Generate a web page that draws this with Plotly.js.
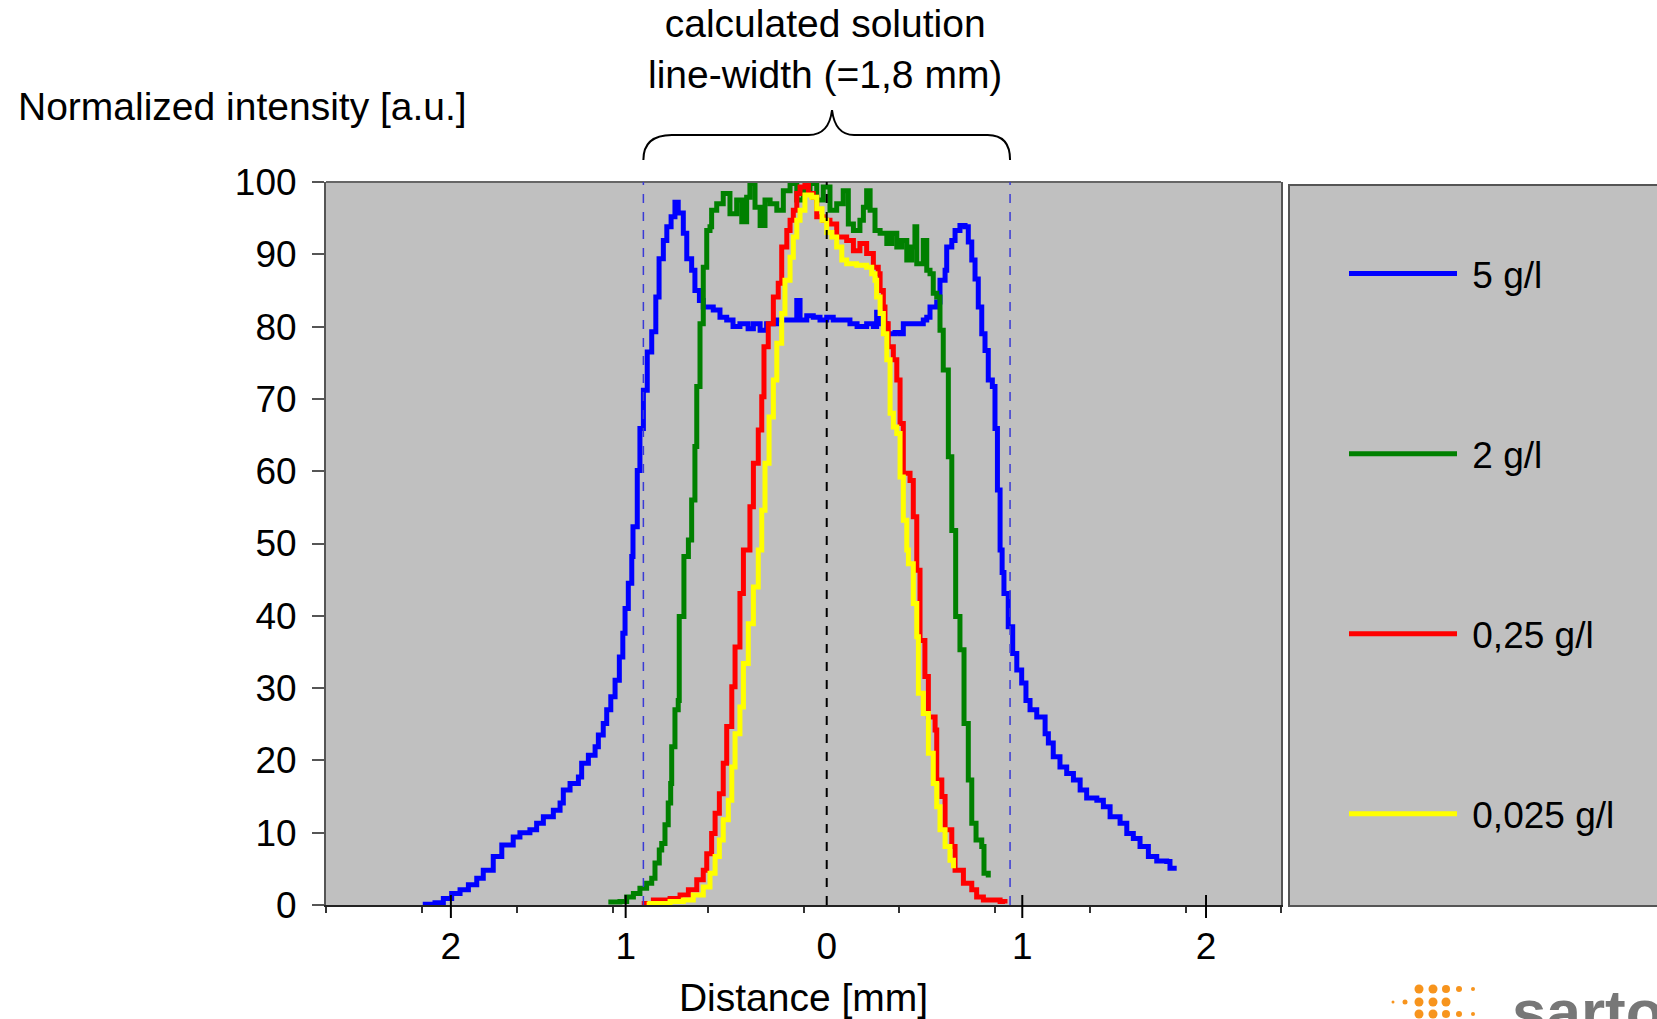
<!DOCTYPE html>
<html>
<head>
<meta charset="utf-8">
<script src="https://cdn.plot.ly/plotly-3.0.1.min.js"></script>
<style>
  html, body { margin: 0; padding: 0; background: #ffffff; }
  #chart { width: 1657px; height: 1019px; }
</style>
</head>
<body>
<div id="chart"></div>
<script>
// ---------------- data ----------------
const seriesNames  = ['5 g/l', '2 g/l', '0,25 g/l', '0,025 g/l'];
const seriesColors = ['#0000FF', '#008000', '#FF0000', '#FFFF00'];

// 5 g/l (blue)
const blueX = [-1.983,-1.923,-1.882,-1.841,-1.800,-1.759,-1.718,-1.686,-1.637,-1.595,
  -1.539,-1.506,-1.457,-1.424,-1.391,-1.342,-1.309,-1.293,-1.260,-1.219,
  -1.203,-1.170,-1.137,-1.121,-1.097,-1.080,-1.060,-1.039,-1.018,-1.001,
  -0.990,-0.974,-0.957,-0.951,-0.930,-0.917,-0.900,-0.881,-0.859,-0.839,
  -0.823,-0.802,-0.785,-0.764,-0.745,-0.729,-0.704,-0.687,-0.663,-0.647,
  -0.625,-0.606,-0.557,-0.524,-0.491,-0.460,-0.426,-0.386,-0.360,-0.327,
  -0.295,-0.245,-0.196,-0.147,-0.131,-0.098,-0.066,-0.033,0,0.032,
  0.081,0.114,0.149,0.196,0.229,0.245,0.262,0.295,0.335,0.360,
  0.376,0.425,0.474,0.491,0.507,0.540,0.556,0.581,0.589,0.614,
  0.630,0.654,0.679,0.695,0.712,0.728,0.744,0.761,0.777,0.793,
  0.813,0.826,0.838,0.851,0.861,0.870,0.891,0.913,0.933,0.957,
  0.978,0.998,1.031,1.072,1.088,1.112,1.145,1.178,1.211,1.244,
  1.276,1.326,1.358,1.391,1.440,1.473,1.505,1.538,1.579,1.620,
  1.669,1.685,1.718];
const blueY = [0.1,0.3,0.9,1.6,2.1,2.8,3.7,4.8,6.7,8.3,
  9.4,10.0,10.4,11.3,12.2,13.1,14.1,15.9,16.8,17.7,
  19.6,20.7,21.9,23.5,25.1,27.0,28.8,31.1,34.3,37.6,
  41.0,44.5,48.2,52.3,60.1,65.9,71.2,76.5,79.3,84.1,
  89.4,91.9,93.8,95.2,97.2,95.7,92.9,89.4,87.8,85.0,
  83.6,82.7,82.3,81.3,80.9,80.0,80.4,79.7,80.4,79.5,
  80.4,80.9,80.9,83.6,80.9,81.5,81.3,80.9,81.3,80.9,
  80.9,80.4,80.0,80.4,80.0,82.0,80.4,79.0,79.2,79.0,
  80.4,80.4,80.9,81.3,82.7,83.4,86.4,87.8,91.0,91.9,
  93.3,94.0,93.8,91.7,89.2,86.6,82.7,79.0,76.7,72.6,
  71.7,65.9,57.4,49.1,46.0,43.1,38.5,34.8,32.5,30.7,
  28.3,27.0,26.0,23.7,22.4,20.5,19.1,18.2,17.3,15.9,
  14.8,14.5,13.6,12.2,11.3,9.9,9.2,8.1,6.7,6.1,
  6.0,5.1,5.1];

// 2 g/l (green)
const greenX = [-1.072,-1.015,-0.982,-0.949,-0.917,-0.884,-0.859,-0.843,-0.822,-0.810,
  -0.794,-0.778,-0.766,-0.761,-0.745,-0.729,-0.724,-0.701,-0.679,-0.663,
  -0.647,-0.638,-0.622,-0.606,-0.589,-0.573,-0.565,-0.540,-0.508,-0.475,
  -0.442,-0.417,-0.393,-0.377,-0.352,-0.327,-0.303,-0.278,-0.245,-0.213,
  -0.180,-0.147,-0.115,-0.082,-0.049,-0.017,0.016,0.049,0.081,0.106,
  0.131,0.163,0.180,0.196,0.213,0.237,0.262,0.295,0.319,0.344,
  0.368,0.393,0.417,0.433,0.442,0.474,0.491,0.507,0.523,0.540,
  0.556,0.572,0.597,0.614,0.633,0.654,0.674,0.695,0.712,0.733,
  0.761,0.772,0.793];
const greenY = [0.4,0.5,1.1,1.6,2.3,3.0,3.7,5.8,7.6,8.5,
  11.1,14.1,16.8,21.9,27.0,28.3,39.9,48.2,50.5,56.0,
  63.4,71.7,80.4,88.2,93.3,93.8,96.1,97.0,98.4,95.6,
  97.5,94.5,97.9,99.8,96.5,94.0,97.5,97.0,96.1,98.8,
  99.8,97.5,98.8,99.8,97.5,99.3,96.1,97.0,98.8,94.2,
  93.3,94.7,96.5,98.8,96.1,93.3,92.9,91.5,92.9,91.0,
  91.9,89.2,91.0,93.8,88.7,91.9,87.8,87.3,84.6,84.1,
  79.5,74.0,62.0,51.8,39.9,35.3,25.1,17.3,11.3,9.0,
  8.1,4.4,3.8];

// 0,25 g/l (red)
const redX = [-0.908,-0.851,-0.769,-0.720,-0.679,-0.638,-0.606,-0.589,-0.565,-0.548,
  -0.527,-0.508,-0.491,-0.466,-0.450,-0.426,-0.409,-0.377,-0.360,-0.336,
  -0.319,-0.308,-0.287,-0.262,-0.238,-0.221,-0.196,-0.180,-0.164,-0.147,
  -0.131,-0.107,-0.090,-0.066,-0.049,-0.017,0.016,0.049,0.098,0.131,
  0.163,0.196,0.229,0.253,0.262,0.278,0.286,0.302,0.327,0.344,
  0.360,0.376,0.409,0.425,0.442,0.458,0.482,0.499,0.532,0.540,
  0.565,0.581,0.614,0.630,0.671,0.712,0.736,0.769,0.851,0.875];
const redY = [0.2,0.7,0.9,1.4,2.1,3.5,4.8,7.1,9.9,12.7,
  15.4,19.6,24.7,30.2,35.7,43.1,49.1,55.1,61.1,65.7,
  70.3,77.2,80.4,84.1,86.0,91.0,93.3,94.7,96.1,98.4,
  99.3,99.5,98.4,97.9,95.2,94.7,94.2,92.4,91.9,90.5,
  91.5,90.1,88.2,87.3,85.0,82.7,80.4,77.2,75.4,72.6,
  66.6,59.7,58.7,53.7,46.3,36.6,31.6,26.0,24.2,17.3,
  15.0,10.4,8.1,4.8,3.0,2.1,1.1,0.7,0.5,0.2];

// 0,025 g/l (yellow)
const yellowX = [-0.884,-0.867,-0.769,-0.704,-0.655,-0.606,-0.573,-0.548,-0.527,-0.508,
  -0.483,-0.466,-0.450,-0.426,-0.409,-0.385,-0.360,-0.336,-0.319,-0.303,
  -0.283,-0.262,-0.245,-0.221,-0.205,-0.180,-0.164,-0.147,-0.131,-0.107,
  -0.074,-0.049,-0.023,0,0.025,0.049,0.074,0.098,0.147,0.196,
  0.221,0.237,0.245,0.262,0.278,0.295,0.311,0.327,0.344,0.360,
  0.376,0.393,0.401,0.425,0.442,0.450,0.474,0.499,0.523,0.540,
  0.556,0.581,0.605,0.622];
const yellowY = [0.1,0.2,0.5,0.7,1.4,2.5,4.4,6.7,9.0,11.8,
  14.5,19.1,23.7,27.4,33.4,38.9,44.0,49.1,54.6,61.1,
  67.5,72.6,77.7,81.8,86.4,89.6,92.4,94.7,96.1,98.2,
  97.9,96.3,94.7,93.0,92.4,91.0,89.2,88.7,88.5,88.2,
  87.3,86.4,84.1,81.8,79.0,75.4,68.0,66.1,65.2,59.2,
  53.2,49.1,47.2,41.7,37.1,29.3,26.5,21.0,16.8,13.6,
  10.4,8.1,6.2,5.1];

// axes
const xTickVals = [-1.845, -0.987, 0, 0.960, 1.862];
const xTickText = ['2', '1', '0', '1', '2'];
const yTickVals = [0, 10, 20, 30, 40, 50, 60, 70, 80, 90, 100];
const xRange = [-2.458, 2.230];
const yRange = [0, 100];
const lineWidthMm = 1.8;   // calculated solution line-width

// ---------------- chart ----------------
const seriesX = [blueX, greenX, redX, yellowX];
const seriesY = [blueY, greenY, redY, yellowY];

const traces = seriesNames.map((name, i) => ({
  type: 'scatter',
  mode: 'lines',
  name: '\u00A0' + name,
  legendgroup: name,
  x: seriesX[i],
  y: seriesY[i],
  line: { color: seriesColors[i], width: 5, shape: 'hv' },
  hoverinfo: 'x+y+name'
}));

const W = 1657, H = 1019;
const M = { l: 326, r: 376, t: 182, b: 114 };
const PW = W - M.l - M.r, PH = H - M.t - M.b;
const px2x = p => (p - M.l) / PW;
const py2y = p => (H - M.b - p) / PH;

const half = lineWidthMm / 2;
const FONT = 'Liberation Sans, Arial, sans-serif';

const shapes = [];
// legend panel
shapes.push({ type: 'rect', xref: 'paper', yref: 'paper',
  x0: px2x(1289), x1: px2x(1720), y0: py2y(906), y1: py2y(185),
  fillcolor: '#C0C0C0', line: { color: '#555555', width: 2 } });
// top frame
shapes.push({ type: 'line', xref: 'paper', yref: 'paper', x0: 0, x1: 1, y0: 1, y1: 1,
  line: { color: '#666666', width: 2 } });
// centre line
shapes.push({ type: 'line', xref: 'x', yref: 'y', x0: 0, x1: 0, y0: yRange[0], y1: yRange[1],
  line: { color: '#000000', width: 2, dash: 'dash' } });
// calculated line-width limits
[-half, half].forEach(v => shapes.push({ type: 'line', xref: 'x', yref: 'paper',
  x0: v, x1: v, y0: 0, y1: 1, line: { color: '#3A3AD6', width: 1.5, dash: 'dash' } }));
// brace over the calculated width
const yb = py2y(160), yh = py2y(135), yt = py2y(110);
shapes.push({ type: 'path', xref: 'x', yref: 'paper',
  path: `M ${-half},${yb} Q ${-half},${yh} ${-half + 0.14},${yh} L -0.088,${yh} Q 0.011,${yh} 0.026,${yt} ` +
        `Q 0.041,${yh} 0.134,${yh} L ${half - 0.11},${yh} Q ${half},${yh} ${half},${yb}`,
  line: { color: '#000000', width: 2 } });
// major x ticks crossing the axis
xTickVals.filter(v => v !== 0).forEach(v => shapes.push({ type: 'line', xref: 'x', yref: 'paper',
  x0: v, x1: v, y0: -13 / PH, y1: 10 / PH, line: { color: '#000000', width: 2 } }));
// logo dots
const logoDots = [[1419,989,4.5],[1433,989,4.5],[1446,989,4],[1459,989,3],[1473,989,2],
  [1393,1002,1.5],[1405,1002,2.5],[1419,1002,4.5],[1433,1002,4.5],[1446,1002,4.5],
  [1419,1014,4.5],[1433,1014,4.5],[1446,1014,4],[1459,1014,3],[1473,1014,2]];
logoDots.forEach(d => shapes.push({ type: 'circle', xref: 'paper', yref: 'paper',
  x0: px2x(d[0] - d[2]), x1: px2x(d[0] + d[2]), y0: py2y(d[1] + d[2]), y1: py2y(d[1] - d[2]),
  fillcolor: '#F7941D', line: { width: 0 } }));

const annotations = [
  { xref: 'paper', yref: 'paper', x: px2x(824.5), y: py2y(0), xanchor: 'center', yanchor: 'top',
    text: 'calculated solution<br>line-width (=1,8 mm)', showarrow: false,
    font: { family: FONT, size: 39, color: '#000' } },
  { xref: 'paper', yref: 'paper', x: px2x(16), y: py2y(107), xanchor: 'left', yanchor: 'middle',
    text: 'Normalized intensity [a.u.]', showarrow: false,
    font: { family: FONT, size: 39, color: '#000' } },
  { xref: 'paper', yref: 'paper', x: px2x(1510), y: py2y(975), xanchor: 'left', yanchor: 'top',
    text: '<b>sartorius</b>', showarrow: false,
    font: { family: FONT, size: 62, color: '#777777' } }
];

const layout = {
  width: W, height: H,
  margin: { l: M.l, r: M.r, t: M.t, b: M.b, pad: 0 },
  paper_bgcolor: '#FFFFFF',
  plot_bgcolor: '#C0C0C0',
  font: { family: FONT, color: '#000000' },
  xaxis: {
    range: xRange, showgrid: false, zeroline: false,
    showline: true, linecolor: '#222222', linewidth: 2,
    tickmode: 'array', tickvals: xTickVals, ticktext: xTickText,
    ticks: 'outside', ticklen: 8, tickwidth: 2, tickcolor: 'rgba(0,0,0,0)',
    tickfont: { family: FONT, size: 37, color: '#000' },
    minor: { tickmode: 'linear', tick0: xRange[0], dtick: (xRange[1] - xRange[0]) / 10,
      ticks: 'outside', ticklen: 6, tickwidth: 1.5, tickcolor: '#333333', showgrid: false },
    title: { text: 'Distance [mm]', font: { family: FONT, size: 39, color: '#000' }, standoff: 18 },
    fixedrange: true
  },
  yaxis: {
    range: yRange, showgrid: false, zeroline: false,
    showline: true, linecolor: '#555555', linewidth: 2, mirror: true,
    tickmode: 'array', tickvals: yTickVals,
    ticks: 'outside', ticklen: 12, tickwidth: 2, tickcolor: '#555555',
    tickfont: { family: FONT, size: 37, color: '#000' },
    ticklabelstandoff: 8,
    fixedrange: true
  },
  showlegend: true,
  legend: {
    x: px2x(1344), xanchor: 'left', y: py2y(243), yanchor: 'top',
    bgcolor: 'rgba(0,0,0,0)', borderwidth: 0,
    font: { family: FONT, size: 37, color: '#000' },
    itemwidth: 108, tracegroupgap: 129, traceorder: 'grouped',
    itemclick: false, itemdoubleclick: false
  },
  shapes: shapes,
  annotations: annotations
};

Plotly.newPlot('chart', traces, layout, { displayModeBar: false });
</script>
</body>
</html>
